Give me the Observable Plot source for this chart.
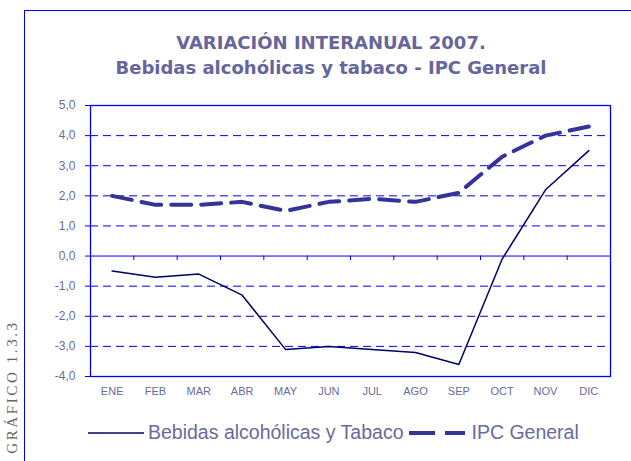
<!DOCTYPE html>
<html>
<head>
<meta charset="utf-8">
<script src="https://cdn.jsdelivr.net/npm/d3@7"></script>
<script src="https://cdn.jsdelivr.net/npm/@observablehq/plot@0.6"></script>
<style>
  body { margin: 0; background: #fff; }
  #wrap { position: relative; width: 631px; height: 461px; overflow: hidden; font-family: "Liberation Sans", Arial, sans-serif; }
  #frameTop { position: absolute; left: 24px; top: 10px; width: 620px; height: 1px; background: #0000ff; z-index: 5; }
  #frameLeft { position: absolute; left: 24px; top: 10px; width: 1px; height: 460px; background: #0000ff; z-index: 5; }
  #title { position: absolute; left: 0; width: 662px; top: 30px; text-align: center; font-family: "DejaVu Sans", Verdana, sans-serif; font-weight: bold; font-size: 18px; color: #66669c; line-height: 25px; }
  #chart { position: absolute; left: 0; top: 95px; }
  #legend { position: absolute; left: 88px; top: 421px; font-size: 19.5px; color: #6a6a9c; display: flex; align-items: center; white-space: nowrap; }
  #legend svg { display: block; }
  #side { position: absolute; left: 12px; top: 387px; transform: translate(-50%, -50%) rotate(-90deg); font-family: "Liberation Serif", "DejaVu Serif", serif; font-size: 15px; letter-spacing: 2.6px; color: #666; white-space: nowrap; }
</style>
</head>
<body>
<div id="wrap">
  <div id="frameTop"></div>
  <div id="frameLeft"></div>
  <div id="title">VARIACIÓN INTERANUAL 2007.<br>Bebidas alcohólicas y tabaco - IPC General</div>
  <div id="chart"></div>
  <div id="legend"></div>
  <div id="side">GRÁFICO 1.3.3</div>
</div>
<script>
const months = ["ENE","FEB","MAR","ABR","MAY","JUN","JUL","AGO","SEP","OCT","NOV","DIC"];
const bebidas = [-0.5, -0.7, -0.6, -1.3, -3.1, -3.0, -3.1, -3.2, -3.6, -0.1, 2.2, 3.5];
const ipc = [2.0, 1.7, 1.7, 1.8, 1.5, 1.8, 1.9, 1.8, 2.1, 3.3, 4.0, 4.3];
const seriesNames = ["Bebidas alcohólicas y Tabaco", "IPC General"];
const yTicks = [-4, -3, -2, -1, 0, 1, 2, 3, 4, 5];
const gridValues = [-3, -2, -1, 1, 2, 3, 4];

const idx = months.map((_, i) => i);
const bebData = idx.map(i => ({i, v: bebidas[i]}));
const ipcData = idx.map(i => ({i, v: ipc[i]}));
const boundaries = idx.slice(0, -1).map(i => i + 0.5);

const textColor = "#6a6a9c";
const fmt = v => v.toFixed(1).replace(".", ",");

const chart = Plot.plot({
  width: 631,
  height: 315,
  marginLeft: 90,
  marginRight: 21,
  marginTop: 10,
  marginBottom: 34,
  style: { fontFamily: "Liberation Sans, Arial, sans-serif", background: "transparent", overflow: "visible" },
  x: { type: "linear", domain: [-0.5, 11.5], axis: null },
  y: { domain: [-4, 5], axis: null },
  marks: [
    Plot.ruleY(gridValues, { stroke: "#0000ee", strokeWidth: 1, strokeDasharray: "8,5" }),
    Plot.ruleY([0], { stroke: "#0000ff", strokeWidth: 1 }),
    Plot.ruleX(boundaries, { y1: 0, y2: -0.15, stroke: "#0000ff", strokeWidth: 1 }),
    Plot.frame({ stroke: "#0000ff", strokeWidth: 1.3 }),
    Plot.axisY(yTicks, { label: null, tickSize: 5, tickPadding: 10, tickFormat: fmt, stroke: "#0000ff", fill: textColor, fontSize: 12, strokeOpacity: 1 }),
    Plot.axisX(idx, { label: null, tickSize: 0, tickPadding: 11, tickFormat: i => months[i], fill: textColor, fontSize: 11, letterSpacing: "0.5px" }),
    Plot.line(ipcData, { x: "i", y: "v", stroke: "#333399", strokeWidth: 4, strokeDasharray: "20,10", strokeLinejoin: "miter" }),
    Plot.line(bebData, { x: "i", y: "v", stroke: "#000066", strokeWidth: 1.5 })
  ]
});
document.getElementById("chart").appendChild(chart);

const legend = document.getElementById("legend");
legend.innerHTML =
  `<svg width="56" height="10"><line x1="0" y1="5" x2="56" y2="5" stroke="#000066" stroke-width="1.5"/></svg>` +
  `<span style="margin-left:4px">${seriesNames[0]}</span>` +
  `<svg width="58" height="10" style="margin-left:6px"><line x1="0" y1="5" x2="26" y2="5" stroke="#333399" stroke-width="4"/><line x1="36" y1="5" x2="56" y2="5" stroke="#333399" stroke-width="4"/></svg>` +
  `<span style="margin-left:4px">${seriesNames[1]}</span>`;
</script>
</body>
</html>
